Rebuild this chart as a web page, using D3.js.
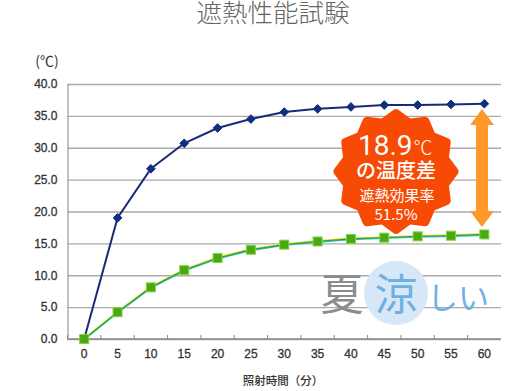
<!DOCTYPE html>
<html>
<head>
<meta charset="utf-8">
<script src="https://cdn.jsdelivr.net/npm/d3@7"></script>
<style>
body { margin:0; background:#fff; }
svg { display:block; }
text { font-family:"Noto Sans CJK JP","Noto Sans",sans-serif; }
.tick text { font-family:"Liberation Sans",sans-serif; font-size:12px; fill:#333; stroke:#333; stroke-width:.3px; }
</style>
</head>
<body>
<svg id="chart"></svg>
<script>
var minutes = ["0","5","10","15","20","25","30","35","40","45","50","55","60"];
var shadedValues = [0,19.0,26.7,30.7,33.1,34.5,35.6,36.1,36.4,36.7,36.7,36.8,36.9];
var coolValues = [0,4.2,8.1,10.8,12.7,14.0,14.8,15.3,15.7,15.9,16.1,16.2,16.4];
var tempTicks = [0,5,10,15,20,25,30,35,40];

var screen = {width:505,height:391};
var plot = {left:67.5,right:501,top:84,bottom:339};

var svg = d3.select("#chart")
    .attr("width",screen.width)
    .attr("height",screen.height);

var xScale = d3.scaleBand()
    .domain(minutes)
    .range([plot.left,plot.right]);

var yScale = d3.scaleLinear()
    .domain([0,40])
    .range([plot.bottom,plot.top]);

var xCenter = function(m) { return xScale(m)+xScale.bandwidth()/2; };

// title
svg.append("text")
    .text("遮熱性能試験")
    .attr("x",273).attr("y",22)
    .attr("text-anchor","middle")
    .attr("font-size",25.5)
    .attr("font-weight",300)
    .attr("fill","#666");

svg.append("text")
    .text("(℃)")
    .attr("x",47).attr("y",66)
    .attr("text-anchor","middle")
    .attr("font-size",14)
    .attr("fill","#333");

// gridlines + left axis
var yAxis = d3.axisLeft(yScale)
    .tickValues(tempTicks)
    .tickFormat(d3.format(".1f"))
    .tickSize(0)
    .tickPadding(10);

var yAxisG = svg.append("g")
    .attr("transform","translate("+plot.left+",0)")
    .call(yAxis);
yAxisG.select(".domain").remove();
yAxisG.selectAll(".tick line")
    .attr("x2",plot.right-plot.left)
    .attr("stroke","#aaa")
    .attr("stroke-width",1.4);

svg.append("line")
    .attr("x1",plot.left+.5).attr("x2",plot.left+.5)
    .attr("y1",plot.top).attr("y2",plot.bottom)
    .attr("stroke","#999").attr("stroke-width",1.2);

// bottom axis, the marks sit between the labels
var xAxis = d3.axisBottom(xScale).tickSize(0).tickPadding(10);
var xAxisG = svg.append("g")
    .attr("transform","translate(0,"+plot.bottom+")")
    .call(xAxis);
xAxisG.select(".domain").remove();

svg.append("line")
    .attr("x1",plot.left).attr("x2",plot.right)
    .attr("y1",plot.bottom).attr("y2",plot.bottom)
    .attr("stroke","#888").attr("stroke-width",1.4);

svg.append("g").selectAll("line")
    .data(minutes)
    .enter()
    .append("line")
    .attr("x1",function(m){ return xScale(m); })
    .attr("x2",function(m){ return xScale(m); })
    .attr("y1",plot.bottom)
    .attr("y2",plot.bottom-4)
    .attr("stroke","#888");

svg.append("text")
    .text("照射時間（分）")
    .attr("x",283).attr("y",385)
    .attr("text-anchor","middle")
    .attr("font-size",11.5)
    .attr("font-weight",500)
    .attr("fill","#333");

// series
var line = d3.line()
    .x(function(d,i){ return xCenter(minutes[i]); })
    .y(function(d){ return yScale(d); });

svg.append("path")
    .attr("d",line(shadedValues))
    .attr("fill","none")
    .attr("stroke","#1b2a78")
    .attr("stroke-width",2);

svg.append("g").selectAll("path")
    .data(shadedValues)
    .enter()
    .append("path")
    .attr("d",d3.symbol(d3.symbolDiamond2,48))
    .attr("transform",function(d,i){ return "translate("+xCenter(minutes[i])+","+yScale(d)+")"; })
    .attr("fill","#10307f")
    .attr("stroke","#10307f");

// scan fringe on the green line
[["#f3e41c",-.8],["#35c8d8",.8],["#2f9f3a",0]].forEach(function(f){
    svg.append("path")
        .attr("d",line(coolValues))
        .attr("transform","translate(0,"+f[1]+")")
        .attr("fill","none")
        .attr("stroke",f[0])
        .attr("stroke-width",1.3);
});

svg.append("g").selectAll("rect")
    .data(coolValues)
    .enter()
    .append("rect")
    .attr("x",function(d,i){ return xCenter(minutes[i])-4.5; })
    .attr("y",function(d){ return yScale(d)-4.5; })
    .attr("width",9).attr("height",9)
    .attr("fill","#4aa90f")
    .attr("stroke","#7fd24a")
    .attr("stroke-width",1);

// orange arrow between the two end values
svg.append("path")
    .attr("d","M482 109 L494 125 L488 125 L488 211 L494 211 L482 227 L470 211 L476 211 L476 125 L470 125 Z")
    .attr("fill","#ff972c");

// badge
var burst = [];
for (var i=0;i<24;i++) {
    burst.push([i*Math.PI/12,(i%2==0)?58:50]);
}
svg.append("path")
    .attr("d",d3.lineRadial().curve(d3.curveLinearClosed)(burst))
    .attr("transform","translate(396,171.5)")
    .attr("fill","#f74a05")
    .attr("stroke","#f74a05")
    .attr("stroke-width",9)
    .attr("stroke-linejoin","round");

var badge = svg.append("g").attr("fill","#fff");
var big = badge.append("text")
    .attr("x",358).attr("y",155)
    .style("font-family","Roboto,sans-serif")
    .attr("font-size",28);
big.append("tspan").text("18.9");
big.append("tspan").attr("dx",1).attr("font-size",19).style("font-family","'Noto Sans CJK JP'").attr("font-weight",300).text("℃");
badge.append("text")
    .attr("x",396).attr("y",178)
    .attr("text-anchor","middle")
    .attr("font-size",20)
    .attr("font-weight",500)
    .text("の温度差");
badge.append("text")
    .attr("x",397).attr("y",201)
    .attr("text-anchor","middle")
    .attr("font-size",15)
    .text("遮熱効果率");
badge.append("text")
    .attr("x",396).attr("y",220)
    .attr("text-anchor","middle")
    .attr("font-size",15)
    .text("51.5%");

// logo
svg.append("circle")
    .attr("cx",396).attr("cy",293).attr("r",32)
    .attr("fill","#d6e8f7");
svg.append("text")
    .text("夏")
    .attr("x",342).attr("y",310)
    .attr("text-anchor","middle")
    .attr("font-size",43)
    .attr("fill","#8c8c8c");
svg.append("text")
    .text("涼")
    .attr("x",396).attr("y",310)
    .attr("text-anchor","middle")
    .attr("font-size",43)
    .attr("fill","#6fb0e3");
svg.append("text")
    .text("しい")
    .attr("x",458).attr("y",309)
    .attr("text-anchor","middle")
    .attr("font-size",31)
    .attr("fill","#6fb0e3");
</script>
</body>
</html>
